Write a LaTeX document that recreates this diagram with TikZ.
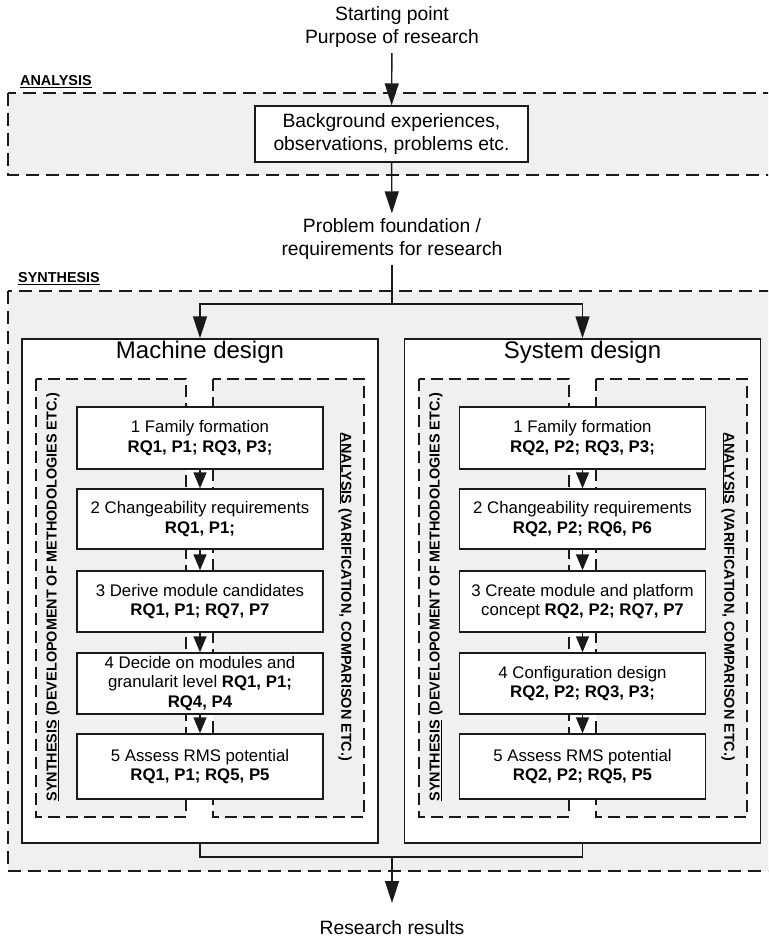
\documentclass[tikz,border=0pt]{standalone}
\usepackage{fontspec}
\setmainfont{Liberation Sans}
\usetikzlibrary{arrows.meta}
\definecolor{regfill}{HTML}{F0F0F0}
\definecolor{ink}{HTML}{1A1A1A}
\begin{document}
\begin{tikzpicture}[x=1pt,y=-1pt,
  region/.style={draw=ink, fill=regfill, line width=1.8pt, dash pattern=on 13pt off 7pt},
  inregion/.style={draw=ink, fill=regfill, line width=1.7pt, dash pattern=on 12pt off 6pt},
  stepbox/.style={draw=ink, fill=white, line width=1.4pt, minimum width=246pt, inner sep=0pt, align=center, font=\fontsize{16.8}{19.5}\selectfont},
  designbox/.style={draw=ink, fill=white, line width=1.4pt, minimum width=356pt, minimum height=504pt, inner sep=0pt},
  titletext/.style={font=\fontsize{24}{28}\selectfont, inner sep=0pt},
  bigar/.style={draw=ink, line width=1.4pt, -{Triangle[length=22pt,width=14pt]}},
  stepar/.style={draw=ink, line width=1.4pt, -{Triangle[length=16pt,width=13pt]}},
  conn/.style={draw=ink, line width=1.4pt},
  outer/.style={align=center, font=\fontsize{19.3}{23}\selectfont, inner sep=5pt},
  lab/.style={font=\fontsize{14.4}{16}\selectfont\bfseries, inner sep=0pt}
]
\clip (0,0) rectangle (768,939);

% big regions
\draw[region] (8,93) rectangle (790,175);
\draw[region] (8,291) rectangle (790,871);
\node[lab, anchor=west] (labA) at (20,82) {\underline{ANALYSIS}};
\node[lab, anchor=west] (labS) at (18,279) {\underline{SYNTHESIS}};

% top part
\node[outer] (start) at (392,27.5) {Starting point\\Purpose of research};
\node[draw=ink, fill=white, line width=1.4pt, minimum width=273pt, minimum height=56pt, inner sep=0pt, align=center, font=\fontsize{19.3}{23}\selectfont] (bg) at (391.5,134) {Background experiences,\\observations, problems etc.};
\node[outer] (problem) at (392,239) {Problem foundation /\\requirements for research};
\draw[bigar] (start) -- (bg);
\draw[bigar] (bg) -- (problem);

% design boxes
\node[designbox] (mach) at (200,591) {};
\node[designbox] (sys) at (582.5,591) {};
\node[titletext] (machT) at (200,352) {Machine design};
\node[titletext] (sysT) at (582.5,352) {System design};

% inner dashed regions
\foreach \dx in {0,383}{
  \draw[inregion] (36+\dx,379) rectangle (186+\dx,817);
  \draw[inregion] (213+\dx,379) rectangle (364+\dx,817);
}
\node[lab, rotate=90] (mSyn) at (53,597) {\underline{SYNTHESIS} (DEVELOPOMENT OF METHODOLOGIES ETC.)};
\node[lab, rotate=-90] (mAna) at (345,597) {\underline{ANALYSIS} (VARIFICATION, COMPARISON ETC.)};
\node[lab, rotate=90] (sSyn) at (436,597) {\underline{SYNTHESIS} (DEVELOPOMENT OF METHODOLOGIES ETC.)};
\node[lab, rotate=-90] (sAna) at (728,597) {\underline{ANALYSIS} (VARIFICATION, COMPARISON ETC.)};

% machine steps
\node[stepbox, minimum height=62pt] (m1) at (200,438) {1 Family formation\\\textbf{RQ1, P1; RQ3, P3;}};
\node[stepbox, minimum height=60pt] (m2) at (200,519) {2 Changeability requirements\\\textbf{RQ1, P1;}};
\node[stepbox, minimum height=61pt] (m3) at (200,601.5) {3 Derive module candidates\\\textbf{RQ1, P1; RQ7, P7}};
\node[stepbox, minimum height=61pt] (m4) at (200,683.5) {4 Decide on modules and\\granularit level \textbf{RQ1, P1;}\\\textbf{RQ4, P4}};
\node[stepbox, minimum height=65pt] (m5) at (200,766.5) {5 Assess RMS potential\\\textbf{RQ1, P1; RQ5, P5}};

% system steps
\node[stepbox, minimum height=62pt] (s1) at (582.5,438) {1 Family formation\\\textbf{RQ2, P2; RQ3, P3;}};
\node[stepbox, minimum height=60pt] (s2) at (582.5,519) {2 Changeability requirements\\\textbf{RQ2, P2; RQ6, P6}};
\node[stepbox, minimum height=61pt] (s3) at (582.5,601.5) {3 Create module and platform\\concept \textbf{RQ2, P2; RQ7, P7}};
\node[stepbox, minimum height=61pt] (s4) at (582.5,683.5) {4 Configuration design\\\textbf{RQ2, P2; RQ3, P3;}};
\node[stepbox, minimum height=65pt] (s5) at (582.5,766.5) {5 Assess RMS potential\\\textbf{RQ2, P2; RQ5, P5}};

\draw[stepar] (m1) -- (m2);
\draw[stepar] (m2) -- (m3);
\draw[stepar] (m3) -- (m4);
\draw[stepar] (m4) -- (m5);
\draw[stepar] (s1) -- (s2);
\draw[stepar] (s2) -- (s3);
\draw[stepar] (s3) -- (s4);
\draw[stepar] (s4) -- (s5);

% split and join connectors
\coordinate (split) at (392,304);
\coordinate (join) at (392,857);
\coordinate (restip) at (392,903);
\draw[conn] (problem) -- (split);
\draw[bigar] (split) -| (mach.north);
\draw[bigar] (split) -| (sys.north);
\draw[conn] (mach.south) |- (join);
\draw[conn] (sys.south) |- (join);
\draw[bigar] (join) -- (restip);
\node[outer] (results) at (392,928) {Research results};
\end{tikzpicture}
\end{document}
